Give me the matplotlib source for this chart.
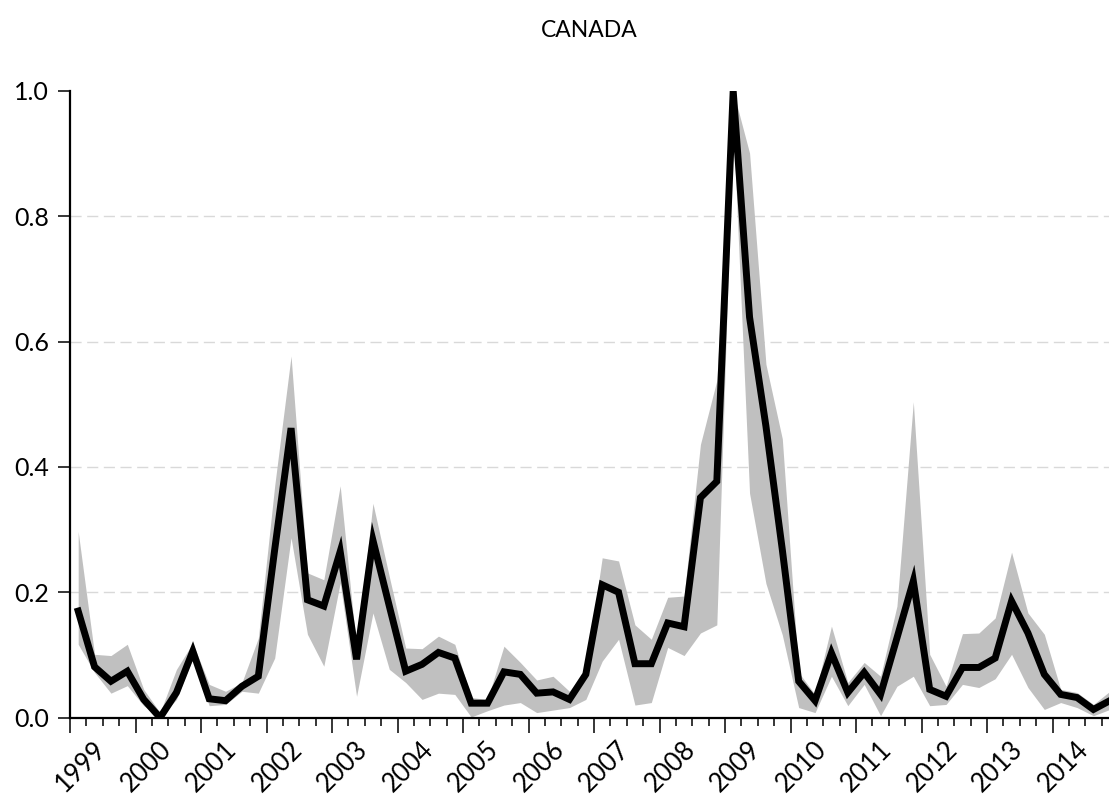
import matplotlib
matplotlib.use("Agg")
import matplotlib.pyplot as plt
import numpy as np

plt.rcParams['font.family'] = ['Lato', 'DejaVu Sans']

# quarterly series, 1999Q1 - 2014Q4
years = list(range(1999, 2015))

central = [0.170, 0.081, 0.058, 0.074, 0.029, 0.000, 0.040, 0.106,
           0.030, 0.027, 0.050, 0.066, 0.268, 0.462, 0.188, 0.178,
           0.265, 0.093, 0.283, 0.178, 0.074, 0.085, 0.104, 0.095,
           0.023, 0.023, 0.073, 0.069, 0.039, 0.041, 0.029, 0.069,
           0.212, 0.200, 0.086, 0.086, 0.151, 0.145, 0.351, 0.377,
           1.000, 0.639, 0.465, 0.268, 0.058, 0.027, 0.103, 0.040,
           0.072, 0.037, 0.127, 0.218, 0.045, 0.034, 0.080, 0.080,
           0.095, 0.186, 0.135, 0.069, 0.037, 0.032, 0.013, 0.027]

upper = [0.297, 0.101, 0.099, 0.117, 0.045, 0.008, 0.077, 0.119,
         0.053, 0.042, 0.056, 0.127, 0.370, 0.577, 0.231, 0.220,
         0.370, 0.110, 0.342, 0.225, 0.111, 0.110, 0.130, 0.117,
         0.032, 0.029, 0.114, 0.088, 0.060, 0.066, 0.042, 0.077,
         0.255, 0.250, 0.148, 0.125, 0.192, 0.194, 0.436, 0.538,
         1.000, 0.901, 0.564, 0.445, 0.072, 0.037, 0.146, 0.056,
         0.088, 0.066, 0.178, 0.504, 0.101, 0.050, 0.134, 0.135,
         0.159, 0.264, 0.167, 0.133, 0.045, 0.040, 0.021, 0.042]

lower = [0.117, 0.072, 0.039, 0.051, 0.019, 0.000, 0.029, 0.095,
         0.019, 0.021, 0.042, 0.039, 0.095, 0.287, 0.133, 0.082,
         0.215, 0.034, 0.167, 0.077, 0.056, 0.029, 0.039, 0.037,
         0.001, 0.011, 0.020, 0.024, 0.008, 0.012, 0.016, 0.029,
         0.090, 0.125, 0.020, 0.024, 0.112, 0.099, 0.135, 0.148,
         0.950, 0.358, 0.214, 0.132, 0.016, 0.008, 0.066, 0.019,
         0.053, 0.003, 0.050, 0.066, 0.019, 0.021, 0.053, 0.048,
         0.062, 0.101, 0.048, 0.013, 0.024, 0.016, 0.003, 0.013]

n = len(central)
t = np.arange(n) + 0.5   # mid-quarter positions

fig = plt.figure(figsize=(11.09, 7.98), dpi=100)
ax = fig.add_axes([70 / 1109, 80.4 / 798, 1048 / 1109, 626.6 / 798])

ax.fill_between(t, lower, upper, color='#c0c0c0', lw=0, zorder=2)
ax.plot(t, central, color='black', lw=5, solid_joinstyle='miter', zorder=3)

for g in [0.2, 0.4, 0.6, 0.8]:
    ax.axhline(g, color='#d9d9d9', lw=1, ls=(0, (8, 4)), zorder=1)

ax.set_xlim(0, n)
ax.set_ylim(0, 1.0)

for s in ['top', 'right']:
    ax.spines[s].set_visible(False)
for s in ['left', 'bottom']:
    ax.spines[s].set_linewidth(1.6)

ax.set_yticks([0.0, 0.2, 0.4, 0.6, 0.8, 1.0])
ax.set_yticklabels(['%.1f' % v for v in [0.0, 0.2, 0.4, 0.6, 0.8, 1.0]])
ax.tick_params(axis='y', direction='out', length=9, width=1.1, pad=6, labelsize=18)

# year boundaries as major ticks, quarters as minor ticks
ax.set_xticks(np.arange(0, n + 1, 4))
ax.set_xticks([q for q in range(n + 1) if q % 4], minor=True)
ax.set_xticklabels([])
ax.tick_params(axis='x', which='major', direction='out', length=11, width=1.1)
ax.tick_params(axis='x', which='minor', direction='out', length=5.5, width=1.1)

for k, yr in enumerate(years):
    ax.annotate(str(yr), xy=(4 * k + 2, 0), xycoords=('data', 'axes fraction'),
                xytext=(8, -19), textcoords='offset pixels',
                rotation=45, ha='right', va='top', fontsize=18.5,
                annotation_clip=False)

fig.text(0.531, 0.962, 'CANADA', ha='center', va='center', fontsize=16.5)

fig.savefig('out.png', dpi=100)
